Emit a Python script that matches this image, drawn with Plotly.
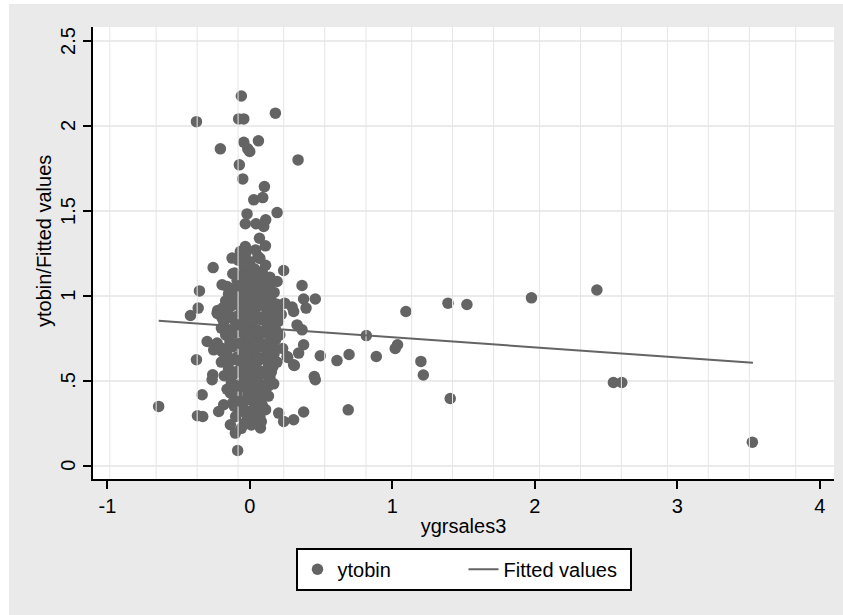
import plotly.graph_objects as go

# ---------------- data ----------------
# scattered / outlying observations (ygrsales3, ytobin)
outer_x = [-0.06, 0.179, -0.375, -0.079, -0.043, 0.06, -0.207, -0.043, -0.015, -0.001,
           0.338, -0.074, -0.05, 0.102, 0.09, 0.027, 0.191, -0.02, -0.032, 0.043,
           0.111, 0.097, 0.067, 0.109, -0.032, -0.067, 0.057, -0.125, -0.258, 0.237,
           -0.107, -0.02, 0.086, 0.097, 0.191, 0.366, -0.195, -0.16, -0.354, 0.377,
           0.394, 0.459, 0.244, 0.296, 0.195, -0.363, -0.417, -0.226, -0.23, -0.195,
           0.307, 0.331, 0.366, -0.30, -0.23, -0.254, -0.195, 0.377, 0.342, -0.375,
           0.261, 0.307, 0.494, 0.611, -0.261, 0.452, 0.167, -0.265, 0.459, -0.335,
           -0.64, -0.184, -0.219, -0.331, -0.368, -0.137, -0.137, -0.102, -0.086, -0.02,
           0.074, 0.202, 0.237, 0.307, 0.377, 0.69, 0.027, 1.095, 1.39, 1.523,
           1.976, 2.435, 0.817, 1.036, 1.02, 0.696, 0.887, 1.2, 1.217, 1.406,
           2.551, 2.61, 3.526, -0.219, 0.265, 0.312]
outer_y = [2.176, 2.075, 2.025, 2.041, 2.041, 1.912, 1.865, 1.904, 1.865, 1.849,
           1.80, 1.771, 1.688, 1.643, 1.578, 1.565, 1.49, 1.482, 1.424, 1.424,
           1.447, 1.408, 1.339, 1.294, 1.29, 1.261, 1.231, 1.222, 1.166, 1.149,
           1.134, 1.202, 1.143, 1.114, 1.084, 1.061, 1.065, 1.055, 1.029, 0.981,
           0.928, 0.981, 0.957, 0.934, 0.914, 0.928, 0.884, 0.914, 0.898, 0.869,
           0.908, 0.829, 0.80, 0.731, 0.722, 0.682, 0.672, 0.712, 0.663, 0.624,
           0.643, 0.594, 0.647, 0.619, 0.535, 0.525, 0.482, 0.506, 0.506, 0.418,
           0.349, 0.359, 0.319, 0.29, 0.294, 0.428, 0.241, 0.192, 0.09, 0.251,
           0.222, 0.31, 0.261, 0.271, 0.316, 0.329, 0.29, 0.908, 0.957, 0.949,
           0.988, 1.034, 0.766, 0.712, 0.69, 0.655, 0.643, 0.614, 0.534, 0.396,
           0.49, 0.49, 0.139, 0.894, 0.637, 0.59]

# dense core of observations near ygrsales3 = 0
core_x = [-0.03, 0.04,
          -0.08, 0.00, 0.07,
          -0.04, 0.03, 0.11,
          -0.12, -0.05, 0.02, 0.09,
          -0.09, -0.02, 0.05, 0.13,
          -0.13, -0.06, 0.01, 0.08, 0.14,
          -0.15, -0.08, -0.02, 0.04, 0.11, 0.17,
          -0.17, -0.11, -0.04, 0.02, 0.09, 0.15,
          -0.19, -0.13, -0.06, 0.00, 0.06, 0.12, 0.18,
          -0.15, -0.09, -0.02, 0.04, 0.10, 0.16, 0.22,
          -0.18, -0.11, -0.05, 0.02, 0.08, 0.14, 0.20,
          -0.20, -0.14, -0.07, -0.01, 0.05, 0.12, 0.17,
          -0.17, -0.10, -0.03, 0.03, 0.09, 0.15, 0.21,
          -0.14, -0.08, -0.01, 0.06, 0.12, 0.18,
          -0.19, -0.12, -0.05, 0.01, 0.07, 0.14, 0.23,
          -0.16, -0.09, -0.03, 0.04, 0.10, 0.17,
          -0.20, -0.13, -0.06, 0.00, 0.06, 0.13, 0.19,
          -0.15, -0.08, -0.02, 0.05, 0.11, 0.16,
          -0.18, -0.11, -0.04, 0.02, 0.08, 0.14,
          -0.13, -0.07, 0.00, 0.06, 0.12,
          -0.16, -0.10, -0.03, 0.03, 0.10,
          -0.09, -0.01, 0.05, 0.13,
          -0.12, -0.05, 0.02, 0.08,
          -0.07, 0.00, 0.06, 0.11,
          -0.10, 0.03,
          -0.04, 0.08]
core_y = [1.25, 1.27,
          1.21, 1.20, 1.22,
          1.17, 1.16, 1.18,
          1.13, 1.12, 1.14, 1.12,
          1.09, 1.10, 1.08, 1.09,
          1.04, 1.06, 1.05, 1.05, 1.04,
          1.01, 1.00, 1.02, 1.01, 1.00, 1.02,
          0.97, 0.96, 0.98, 0.97, 0.96, 0.97,
          0.93, 0.94, 0.92, 0.93, 0.94, 0.92, 0.93,
          0.89, 0.88, 0.90, 0.89, 0.88, 0.90, 0.89,
          0.85, 0.86, 0.84, 0.85, 0.86, 0.84, 0.85,
          0.81, 0.80, 0.82, 0.81, 0.80, 0.82, 0.81,
          0.77, 0.78, 0.76, 0.77, 0.78, 0.76, 0.77,
          0.73, 0.72, 0.74, 0.73, 0.72, 0.74,
          0.69, 0.70, 0.68, 0.69, 0.70, 0.68, 0.69,
          0.65, 0.64, 0.66, 0.65, 0.64, 0.66,
          0.61, 0.62, 0.60, 0.61, 0.62, 0.60, 0.61,
          0.57, 0.56, 0.58, 0.57, 0.56, 0.58,
          0.53, 0.54, 0.52, 0.53, 0.54, 0.52,
          0.49, 0.48, 0.50, 0.49, 0.48,
          0.45, 0.44, 0.46, 0.45, 0.44,
          0.41, 0.42, 0.40, 0.41,
          0.37, 0.36, 0.38, 0.37,
          0.33, 0.32, 0.34, 0.33,
          0.29, 0.28,
          0.25, 0.26]

# further observations packed inside the core
fill_x = [-0.06, 0.01, 0.08, 0.14,
          -0.12, -0.05, 0.01, 0.08, 0.14,
          -0.14, -0.06, 0.01, 0.07, 0.13, 0.19,
          -0.12, -0.05, 0.02, 0.08, 0.15,
          -0.15, -0.08, -0.02, 0.05, 0.11, 0.18,
          -0.12, -0.04, 0.03, 0.09, 0.16,
          -0.15, -0.08, -0.01, 0.05, 0.12,
          -0.11, -0.04, 0.02, 0.09, 0.15,
          -0.13, -0.06, 0.01, 0.07, 0.13,
          -0.09, -0.02, 0.04, 0.10,
          -0.11, -0.03, 0.04, 0.09,
          -0.06, 0.01, 0.07]
fill_y = [1.11, 1.12, 1.10, 1.11,
          1.03, 1.02, 1.03, 1.02, 1.03,
          0.95, 0.95, 0.96, 0.95, 0.94, 0.95,
          0.87, 0.87, 0.86, 0.87, 0.87,
          0.79, 0.79, 0.80, 0.79, 0.79, 0.80,
          0.71, 0.71, 0.71, 0.70, 0.71,
          0.63, 0.63, 0.64, 0.63, 0.63,
          0.55, 0.55, 0.55, 0.54, 0.55,
          0.47, 0.47, 0.46, 0.47, 0.47,
          0.43, 0.39, 0.39, 0.43,
          0.35, 0.31, 0.30, 0.35,
          0.22, 0.24, 0.29]

# a few core observations that end up drawn over the grid
top_x = [-0.08, -0.09, -0.07, -0.08, -0.09, -0.07]
top_y = [1.06, 0.83, 0.72, 0.62, 0.47, 0.38]

# fitted regression line (endpoints at min / max of ygrsales3)
fit_x = [-0.64, 3.53]
fit_y = [0.853, 0.606]

x_ticks = [-1, 0, 1, 2, 3, 4]
y_ticks = [0, 0.5, 1, 1.5, 2, 2.5]
y_ticklabels = ["0", ".5", "1", "1.5", "2", "2.5"]
x_range = [-1.101, 4.099]
y_range = [-0.078, 2.582]

# Stata's vertical grid positions
grid_x = [-0.983, -0.658, -0.370, -0.083, 0.237, 0.525, 0.815, 1.135, 1.422,
          1.710, 2.032, 2.320, 2.607, 2.930, 3.217, 3.505, 3.830]

# ---------------- figure ----------------
FONT = "Liberation Sans, Arial, sans-serif"
PT = "#646464"
FS = 20
MS = 11.5

gx, gy = [], []
for v in grid_x:
    gx += [v, v, None]
    gy += [y_range[0], y_range[1], None]

mk = dict(color=PT, size=MS, opacity=1, line=dict(width=0))
fig = go.Figure()
fig.add_trace(go.Scatter(x=outer_x, y=outer_y, mode="markers", name="ytobin",
                         marker=mk, hoverinfo="x+y"))
fig.add_trace(go.Scatter(x=core_x + fill_x, y=core_y + fill_y, mode="markers",
                         name="ytobin", showlegend=False, marker=mk, hoverinfo="x+y"))
fig.add_trace(go.Scatter(x=gx, y=gy, mode="lines", showlegend=False, hoverinfo="skip",
                         line=dict(color="#e6e6e6", width=1)))
fig.add_trace(go.Scatter(x=top_x, y=top_y, mode="markers", name="ytobin",
                         showlegend=False, marker=mk, hoverinfo="x+y"))
fig.add_trace(go.Scatter(x=fit_x, y=fit_y, mode="lines", name="Fitted values",
                         line=dict(color=PT, width=2)))

shapes = [
    # white strips outside the grey frame (top and left)
    dict(type="rect", xref="paper", yref="paper", x0=-0.2, x1=1.1,
         y0=1.0509, y1=1.1, fillcolor="white", line=dict(width=0), layer="below"),
    dict(type="rect", xref="paper", yref="paper", x0=-0.2, x1=-0.1134,
         y0=-0.4, y1=1.1, fillcolor="white", line=dict(width=0), layer="below"),
]

# y tick labels (Stata prints them rotated, centred on each tick)
annotations = [dict(text=t, xref="paper", yref="y", x=-0.0337, y=v, textangle=-90,
                    showarrow=False, xanchor="center", yanchor="middle",
                    font=dict(size=FS))
               for v, t in zip(y_ticks, y_ticklabels)]
annotations.append(dict(text="ytobin/Fitted values", xref="paper", yref="paper",
                        x=-0.0661, y=0.5265, textangle=-90, showarrow=False,
                        xanchor="center", yanchor="middle", font=dict(size=FS)))

fig.update_layout(
    width=843, height=615,
    margin=dict(l=93, r=9, t=27, b=136),
    paper_bgcolor="#eaeaea", plot_bgcolor="white",
    font=dict(family=FONT, size=FS, color="black"),
    showlegend=True,
    legend=dict(orientation="h", x=0.5, xanchor="center", y=-0.152, yanchor="top",
                bgcolor="white", bordercolor="black", borderwidth=2,
                font=dict(size=FS), itemwidth=30, entrywidth=121, entrywidthmode="pixels"),
    shapes=shapes,
    annotations=annotations,
    xaxis=dict(range=x_range, tickvals=x_ticks, ticktext=[str(v) for v in x_ticks],
               showgrid=False, zeroline=False, showline=True, linecolor="black", linewidth=2,
               ticks="outside", ticklen=8, tickwidth=2, tickcolor="black",
               tickfont=dict(size=FS),
               title=dict(text="ygrsales3", font=dict(size=FS), standoff=3)),
    yaxis=dict(range=y_range, tickvals=y_ticks, showticklabels=False,
               showgrid=True, gridcolor="#ebebeb", gridwidth=2,
               zeroline=False, showline=True, linecolor="black", linewidth=2,
               ticks="outside", ticklen=8, tickwidth=2, tickcolor="black"),
)

fig.write_html("out.html")
